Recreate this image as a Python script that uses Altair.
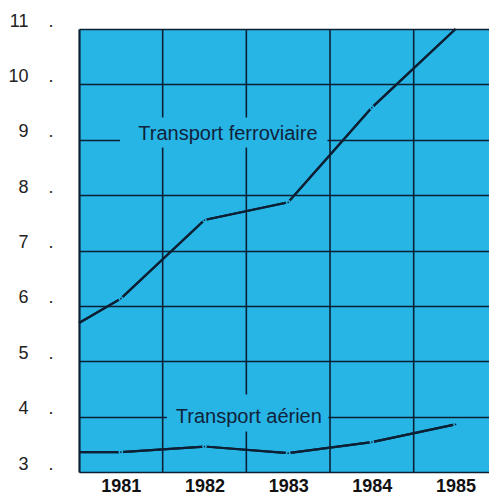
import altair as alt
import pandas as pd

# ---- data ----
years_line = [1980.5, 1981, 1982, 1983, 1984, 1985]
ferroviaire = [5.69, 6.13, 7.55, 7.87, 9.58, 11.0]
aerien = [3.36, 3.36, 3.46, 3.34, 3.54, 3.86]

x_labels = [1981, 1982, 1983, 1984, 1985]
y_ticks = [3, 4, 5, 6, 7, 8, 9, 10, 11]
col_bounds = [1981.5, 1982.5, 1983.5, 1984.5]

label_text = ["Transport ferroviaire", "Transport aérien"]
label_x = [1982.28, 1982.53]
label_y = [9.1, 4.0]
box_x = [1980.99, 1981.55]
box_x2 = [1983.47, 1983.48]
box_y = [9.40, 4.40]
box_y2 = [8.86, 3.73]

BG = "#27b5e6"
INK = "#0d2033"

line_df = pd.DataFrame({
    "year": years_line * 2,
    "value": ferroviaire + aerien,
    "series": ["Transport ferroviaire"] * len(years_line) + ["Transport aérien"] * len(years_line),
})
pts_df = line_df[(line_df["year"] >= 1981) & ~((line_df["series"] == "Transport ferroviaire") & (line_df["year"] == 1985))]
bounds_df = pd.DataFrame({"b": col_bounds})
ann_df = pd.DataFrame({"text": label_text, "x": label_x, "y": label_y,
                       "bx": box_x, "bx2": box_x2, "by": box_y, "by2": box_y2})

xs = alt.Scale(domain=[1980.5, 1985.4], nice=False, zero=False)
ys = alt.Scale(domain=[3, 11], nice=False, zero=False)

nb = "\u00a0\u00a0\u00a0\u00a0"
x_axis = alt.Axis(values=x_labels, format="d", title=None, ticks=False, domain=False, grid=False,
                  labelFont="Liberation Sans", labelFontSize=18, labelFontWeight="bold",
                  labelColor="#111", labelPadding=5, labelBaseline="top")
y_axis = alt.Axis(values=y_ticks, title=None, ticks=False, domain=True,
                  domainColor=INK, domainWidth=2.2, grid=True,
                  gridColor=INK, gridWidth=1.6, gridOpacity=1,
                  labelExpr="format(datum.value, 'd') + '" + nb + ".'",
                  labelFont="Liberation Sans", labelFontSize=18, labelColor="#222",
                  labelPadding=26, labelOffset=-8, labelBaseline="middle")

base_lines = alt.Chart(line_df).mark_line(color=INK, strokeWidth=2.2).encode(
    x=alt.X("year:Q", scale=xs, axis=x_axis),
    y=alt.Y("value:Q", scale=ys, axis=y_axis),
    detail="series:N",
)

vrules = alt.Chart(bounds_df).mark_rule(color=INK, strokeWidth=1.6).encode(
    x=alt.X("b:Q", scale=xs),
)

boxes = alt.Chart(ann_df).mark_rect(color=BG).encode(
    x=alt.X("bx:Q", scale=xs), x2="bx2:Q",
    y=alt.Y("by:Q", scale=ys), y2="by2:Q",
)

gaps = alt.Chart(pts_df).mark_point(filled=True, color=BG, size=22, opacity=1).encode(
    x=alt.X("year:Q", scale=xs), y=alt.Y("value:Q", scale=ys),
)
dots = alt.Chart(pts_df).mark_point(filled=True, color=INK, size=3, opacity=1).encode(
    x=alt.X("year:Q", scale=xs), y=alt.Y("value:Q", scale=ys),
)

texts = alt.Chart(ann_df).mark_text(font="Liberation Sans", fontSize=20, color="#10233a",
                                    align="center", baseline="middle").encode(
    x=alt.X("x:Q", scale=xs), y=alt.Y("y:Q", scale=ys), text="text:N",
)

chart = alt.layer(base_lines, vrules, boxes, base_lines, gaps, dots, texts).properties(
    width=410, height=443,
    background="white",
    autosize=alt.AutoSizeParams(type="none"),
    padding={"left": 71, "top": 21, "right": 0, "bottom": 22},
).configure_view(fill=BG, stroke="transparent")

chart.save("out.html", embed_options={"renderer": "svg", "actions": False})
